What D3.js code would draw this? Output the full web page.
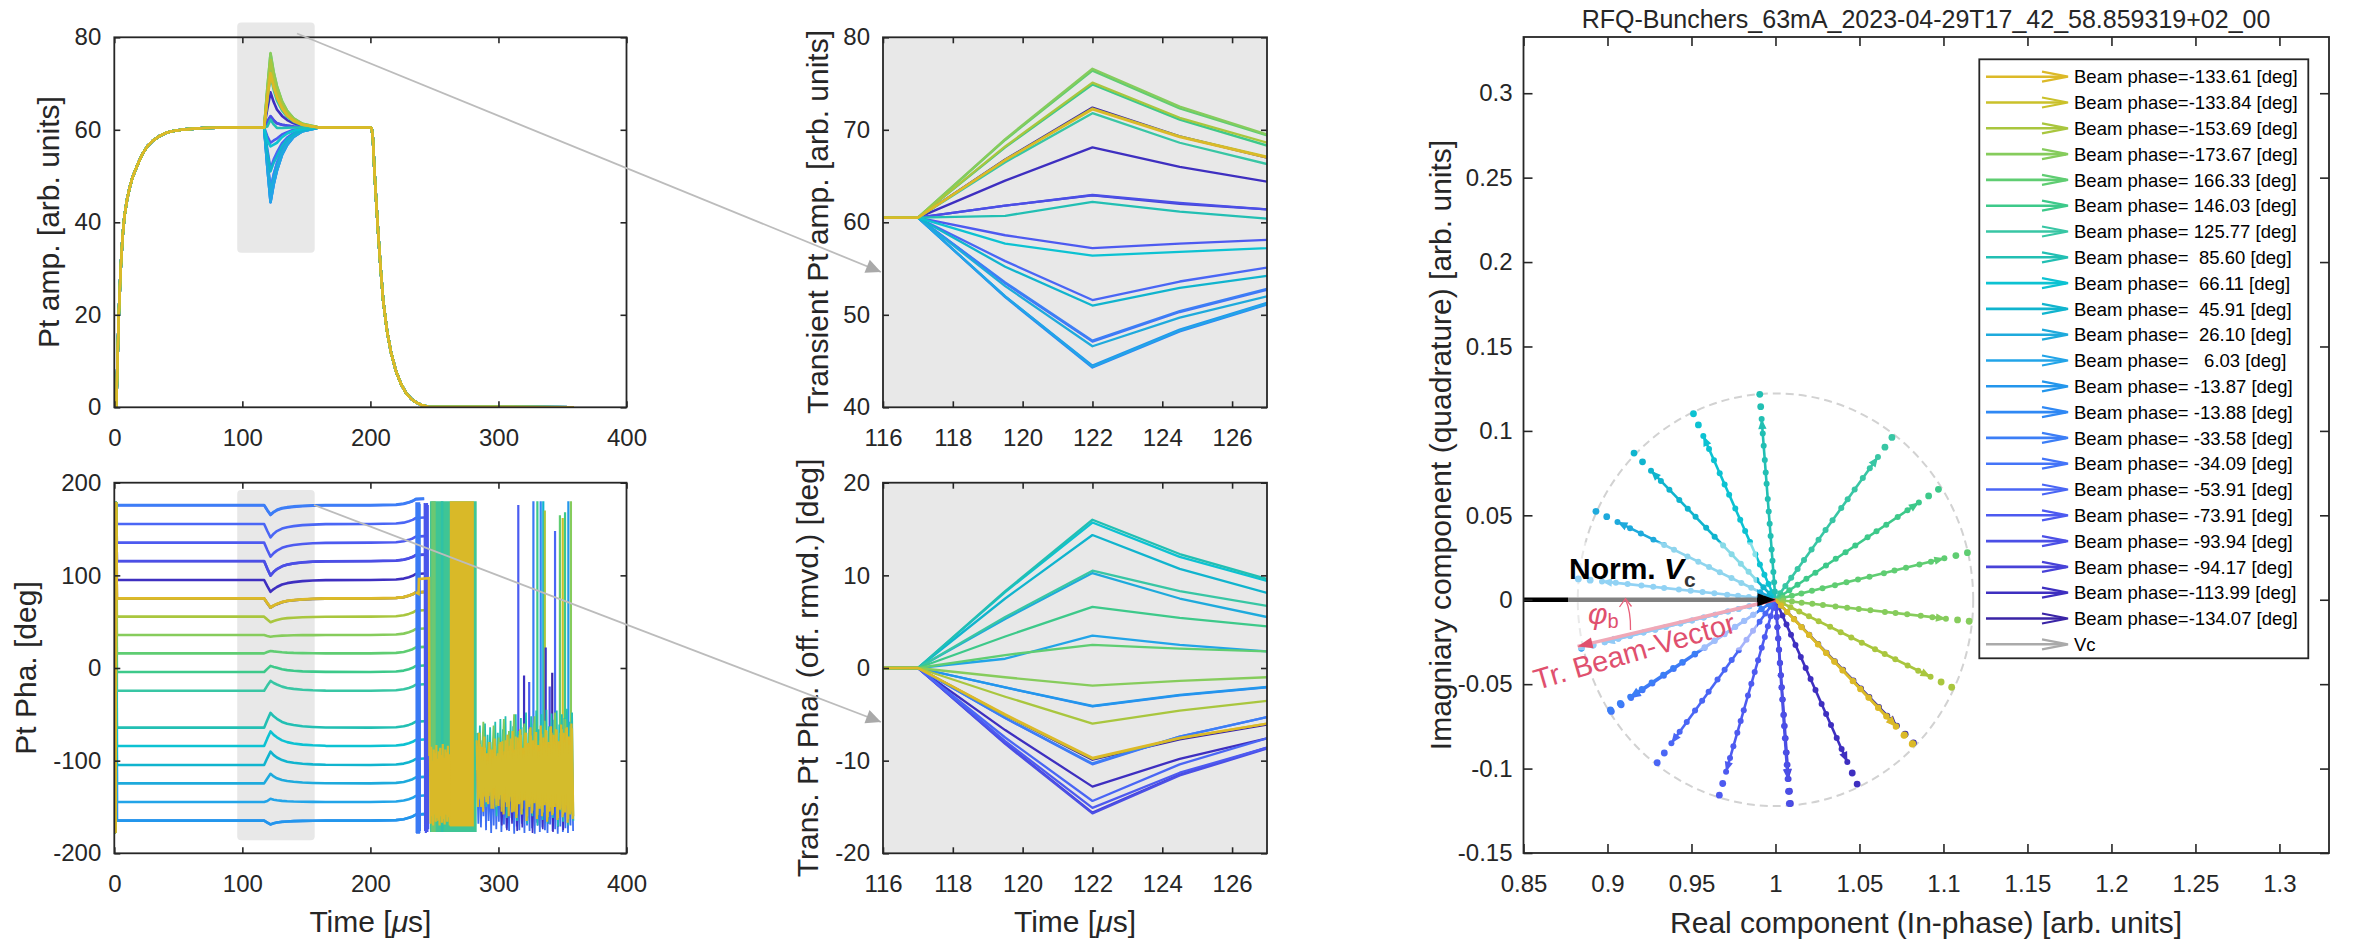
<!DOCTYPE html>
<html><head><meta charset="utf-8">
<script src="https://cdn.jsdelivr.net/npm/d3@7/dist/d3.min.js"></script>
<style>
body{margin:0;background:#fff;}
svg{display:block;}
</style></head><body>
<svg id="c" width="2358" height="941"></svg>
<script>
// ================= DATA =================
const beamPhases = [-133.61,-133.84,-153.69,-173.67,166.33,146.03,125.77,85.60,66.11,45.91,26.10,6.03,-13.87,-13.88,-33.58,-34.09,-53.91,-73.91,-93.94,-94.17,-113.99,-134.07];
const seriesColors = ["#dcb928","#cac12a","#a9c63e","#86cc5c","#5fcd72","#3dc98a","#38c6a4","#22bfb3","#0cc2d2","#10b4ce","#1eaadc","#22a4e8","#2396ec","#2f88f4","#3c7ef6","#4474f8","#4a66f5","#4d5af0","#4b4fe6","#4842d8","#3e2fc0","#3a24a6"];
const vcLabel = "Vc";
const vcColor = "#aaaaaa";

// amplitude: common rise and fall, per-series transient deltas
const ampBase = 60.5;
const ampRiseT = [0,1.5,2.5,3.5,5,6.5,8,10,12,14,16,19,22,26,30,35,40,45,55,70,90];
const ampRiseV = [0,0,10,20,30,37,41.5,45,47.5,49.5,51,53,54.8,56.5,57.6,58.6,59.3,59.7,60.1,60.4,60.5];
const ampFallT = [160,200,201,202,203,204,206,208,210,213,216,220,224,228,232,236,240,245,359];
const ampFallV = [60.5,60.5,60.3,58,52,47,38,30,23,16.5,12,7.8,5.0,3.0,1.8,1.0,0.5,0.1,0];
const transT = [116,117,119.5,122,124.5,127,131,135,140,147,155];
const ampDelta = [
 [0,0,6.2,11.7,8.7,6.5,4.1,2.6,1.4,0.6,0.2],
 [0,0,6.25,11.8,8.8,6.6,4.2,2.6,1.5,0.6,0.2],
 [0,0,7.7,14.6,10.8,8.1,5.1,3.2,1.8,0.7,0.2],
 [0,0,8.5,16.1,12.0,9.0,5.7,3.6,2.0,0.8,0.3],
 [0,0,8.4,15.9,11.8,8.9,5.6,3.6,2.0,0.8,0.3],
 [0,0,7.6,14.4,10.6,7.8,4.9,3.1,1.7,0.7,0.2],
 [0,0,6.0,11.3,8.1,5.8,3.7,2.3,1.3,0.5,0.2],
 [0,0,0.2,1.7,0.65,-0.1,-0.1,-0.05,0,0,0],
 [0,0,-2.8,-4.1,-3.7,-3.3,-2.1,-1.3,-0.7,-0.3,-0.1],
 [0,0,-5.3,-9.5,-7.6,-6.3,-4.0,-2.5,-1.4,-0.6,-0.2],
 [0,0,-7.4,-13.9,-10.8,-8.5,-5.4,-3.4,-1.9,-0.8,-0.3],
 [0,0,-8.5,-16.1,-12.2,-9.3,-5.9,-3.7,-2.0,-0.8,-0.3],
 [0,0,-8.5,-16.0,-12.1,-9.2,-5.8,-3.7,-2.0,-0.8,-0.3],
 [0,0,-8.6,-16.2,-12.3,-9.4,-5.9,-3.8,-2.1,-0.8,-0.3],
 [0,0,-7.0,-13.3,-10.1,-7.7,-4.9,-3.1,-1.7,-0.7,-0.2],
 [0,0,-7.1,-13.4,-10.2,-7.8,-4.9,-3.1,-1.7,-0.7,-0.2],
 [0,0,-4.7,-8.9,-6.9,-5.4,-3.4,-2.2,-1.2,-0.5,-0.2],
 [0,0,-1.9,-3.3,-2.8,-2.4,-1.5,-1.0,-0.5,-0.2,-0.1],
 [0,0,1.3,2.45,1.6,0.9,0.6,0.4,0.2,0.1,0],
 [0,0,1.3,2.4,1.5,0.9,0.6,0.4,0.2,0.1,0],
 [0,0,4.0,7.6,5.5,3.9,2.5,1.6,0.9,0.4,0.1],
 [0,0,6.3,11.9,8.8,6.5,4.1,2.6,1.4,0.6,0.2]
];

// phase: steady offsets, transient deltas, lead-in wrap and tail
const phaseOffset = [75.2,75.0,55.4,35.6,15.8,-4.3,-24.5,-64.4,-84.2,-104.7,-124.5,-144.6,-164.7,-164.7,176.0,175.5,155.4,135.3,115.5,115.3,95.0,75.0];
const phaLeadT = [0.4,0.9,1.4];
const phaLeadV = [179,-177,178];
const phaSettleT = 2;
const phaTransT = [116,117,119.5,122,124.5,127,131,135,140,147,155,165];
const phaDelta = [
 [0,0,-5.0,-9.7,-7.55,-6.0,-3.9,-2.7,-1.8,-1.0,-0.5,-0.1],
 [0,0,-5.1,-9.8,-7.6,-6.0,-3.9,-2.7,-1.8,-1.0,-0.5,-0.1],
 [0,0,-3.1,-6.0,-4.6,-3.55,-2.3,-1.6,-1.1,-0.6,-0.3,-0.1],
 [0,0,-1.0,-1.9,-1.4,-1.0,-0.65,-0.45,-0.3,-0.16,-0.08,0],
 [0,0,1.4,2.5,2.1,1.8,1.2,0.8,0.5,0.3,0.15,0],
 [0,0,3.4,6.6,5.4,4.5,2.9,2.0,1.35,0.7,0.36,0.1],
 [0,0,5.5,10.5,8.3,6.7,4.4,3.0,2.0,1.1,0.5,0.1],
 [0,0,8.3,16.0,12.3,9.6,6.2,4.3,2.9,1.5,0.8,0.2],
 [0,0,8.2,15.7,12.0,9.4,6.1,4.2,2.8,1.5,0.75,0.2],
 [0,0,7.5,14.35,10.7,8.1,5.3,3.6,2.4,1.3,0.65,0.2],
 [0,0,5.3,10.25,7.5,5.5,3.6,2.5,1.65,0.9,0.45,0.1],
 [0,0,1.0,3.5,2.5,1.8,1.2,0.8,0.5,0.3,0.15,0],
 [0,0,-2.1,-4.1,-2.9,-2.05,-1.3,-0.9,-0.6,-0.3,-0.16,0],
 [0,0,-2.1,-4.15,-2.95,-2.1,-1.35,-0.9,-0.6,-0.3,-0.16,0],
 [0,0,-5.4,-10.3,-7.4,-5.3,-3.4,-2.4,-1.6,-0.85,-0.4,-0.1],
 [0,0,-5.4,-10.4,-7.4,-5.3,-3.4,-2.4,-1.6,-0.85,-0.4,-0.1],
 [0,0,-7.5,-14.35,-10.4,-7.6,-4.9,-3.4,-2.3,-1.2,-0.6,-0.15],
 [0,0,-7.9,-15.1,-11.3,-8.6,-5.6,-3.9,-2.6,-1.4,-0.7,-0.2],
 [0,0,-8.2,-15.7,-11.6,-8.7,-5.7,-3.9,-2.6,-1.4,-0.7,-0.2],
 [0,0,-8.1,-15.6,-11.5,-8.6,-5.6,-3.9,-2.6,-1.4,-0.7,-0.2],
 [0,0,-6.7,-12.8,-9.8,-7.6,-4.9,-3.4,-2.3,-1.2,-0.6,-0.15],
 [0,0,-5.1,-9.9,-7.7,-6.1,-4.0,-2.7,-1.8,-1.0,-0.5,-0.1]
];
const phaTailT = [200,220,226,230,233,235.5,242];
const phaTailD = [0,0.5,1.5,3,4.5,6.5,7];

// phase after the pulse (amplitude ~0): wrap wall, blocks, noise, spikes
const wallA = {t:[236.0,236.2,236.4,236.6,236.8,237.0,237.2,237.4,237.6,237.8,238.0,238.2,238.4,238.6], v:[179,-178,179,-179,178,-178,179,-177,178,-179,179,-178,177,-176], color:"#3a7af5"};
const wallB = {t:[242.4,242.7,243.0,243.3,243.6,243.9,244.2,244.5,244.8,245.1], v:[178,-176,177,-178,176,-175,178,-177,176,-174], color:"#4a55ea"};
const goldStep = {t:[235.5,237.6,237.9,245.8,246.2], v:[81.7,80,96,97,-95], color:"#dcb928"};
const phaseBlocks = [
 {t0:246.5, t1:283.0, lo:-177, hi:180, color:"#3fc595"},
 {t0:247.5, t1:251.0, lo:-177, hi:180, color:"#6cc872"},
 {t0:255.0, t1:257.0, lo:-177, hi:180, color:"#2fc2a6"},
 {t0:262.0, t1:280.8, lo:-171, hi:180, color:"#d9b928"}
];
const yellowLow = {t0:246.5, dt:0.5, v:[-95,-168,-85,-160,-100,-170,-88,-158,-92,-166,-83,-162,-98,-165,-90,-170,-86,-160,-94,-167,-82,-163,-97,-169,-88,-158,-91,-166,-84,-161,-93,-170], color:"#d9b928"};
const blueBand = {t0:283.3, dt:1, color:"#3d6ff2", v:[-110,-168,-98,-172,-120,-160,-105,-175,-95,-165,-115,-178,-102,-170,-90,-174,-108,-166,-96,-177,-112,-169,-88,-173,-104,-176,-93,-162,-118,-179,-85,-171,-100,-175,-91,-168,-110,-178,-87,-170,-97,-176,-80,-173,-106,-179,-92,-167,-83,-177,-99,-172,-78,-175,-103,-178,-89,-169,-76,-176,-95,-174,-82,-179,-101,-171,-74,-177,-90,-173,-80,-178,-86,-170,-72,-176]};
const indigoBand = {t0:300.6, dt:2, color:"#3e2fc0", v:[-120,-170,-110,-175,-100,-168,-95,-176,-105,-172,-90,-165,-98,-178,-88,-170,-92,-174,-85,-168,-100,-177,-80,-171,-95,-175,-84,-169,-90]};
const tealBand = {t0:283.5, dt:1, color:"#22bfb3", v:[-70,-125,-62,-140,-78,-118,-60,-150,-72,-130,-64,-145,-80,-120,-58,-160,-70,-135,-55,-150,-66,-128,-52,-162,-72,-140,-57,-155,-63,-132,-50,-165,-68,-145,-54,-158,-64,-138,-48,-168,-70,-150,-52,-160,-60,-142,-46,-170,-66,-152,-50,-164,-58,-146,-45,-168,-63,-150,-49,-162,-56,-140,-46,-171,-61,-155,-50,-166,-54,-148,-44,-170,-58,-158,-48,-165]};
const greenBand = {t0:284.2, dt:2, color:"#7fca5c", v:[-70,-130,-58,-142,-80,-125,-62,-150,-75,-135,-55,-145,-68,-128,-50,-155,-72,-138,-60,-148,-66,-132,-52,-158,-78,-140,-57,-150,-64,-136,-48,-160,-70,-145,-55,-152,-62]};
const yellowBand = {t0:283, dt:1, color:"#d9b928", v:[-78,-150,-70,-142,-85,-155,-74,-139,-92,-147,-80,-133,-88,-152,-76,-141,-95,-149,-82,-137,-79,-158,-90,-145,-72,-160,-84,-139,-68,-155,-88,-162,-75,-147,-66,-158,-86,-143,-70,-165,-81,-150,-64,-157,-78,-146,-69,-163,-83,-152,-62,-160,-75,-148,-67,-166,-80,-155,-63,-159,-72,-150,-66,-164,-79,-153,-61,-161,-70,-156,-65,-167,-74,-158,-60,-163]};
const yellowBand2 = {t0:283.5, dt:1, color:"#d4bc2c", v:[-90,-140,-82,-150,-95,-135,-86,-145,-100,-138,-88,-152,-97,-130,-84,-148,-92,-142,-80,-155,-94,-136,-78,-150,-89,-144,-76,-156,-91,-139,-74,-158,-87,-146,-72,-152,-93,-141,-70,-160,-85,-147,-73,-154,-88,-143,-69,-159,-90,-149,-71,-156,-84,-145,-68,-161,-86,-150,-70,-157,-82,-146,-67,-162,-88,-151,-66,-158,-80,-148,-64,-163,-83,-155,-65,-160]};
const phaseSpikes = [
 [315.5,176,"#4a5cf0"],[320,-8,"#3e2fc0"],[324,-15,"#4d5af0"],[327.3,180,"#3a7af5"],[330.4,180,"#3dc98a"],
 [333.0,180,"#2f88f4"],[335.0,180,"#10b4ce"],[336.2,170,"#a9c63e"],[336.9,22,"#3e2fc0"],[340,-20,"#4b4fe6"],
 [342,-5,"#3a24a6"],[344.2,148,"#4a66f5"],[348.0,165,"#5fcd72"],[350.2,162,"#cac12a"],[352.0,168,"#3dc98a"],
 [354.6,180,"#2396ec"],[356.6,180,"#86cc5c"]
];

// polar (complex plane) rays
const rayAngle = [-46.4,-46.2,-26.3,-6.3,13.7,34.0,54.2,94.4,113.9,134.1,153.9,174.0,-166.1,-166.1,-146.4,-145.9,-126.1,-106.1,-86.1,-85.8,-66.0,-45.9];
const rayReach = [0.118,0.118,0.117,0.116,0.1176,0.117,0.1185,0.122,0.1205,0.121,0.119,0.118,0.119,0.119,0.118,0.118,0.1195,0.1205,0.121,0.121,0.1195,0.118];
const rayFrac = [0.04,0.085,0.135,0.19,0.245,0.31,0.37,0.43,0.49,0.565,0.62,0.68,0.75,0.81,0.88,0.94,1.0];
const rayArrowIdx = 14;
const beamVector = {angle:-166.8, length:0.121};
const circleR = {x:0.1177, y:0.1222};

// ticks
const tLeftX = [0,100,200,300,400];
const tAmpY = [0,20,40,60,80];
const tPhaY = [-200,-100,0,100,200];
const tMidX = [116,118,120,122,124,126];
const tMidAmpY = [40,50,60,70,80];
const tMidPhaY = [-20,-10,0,10,20];
const tReX = [0.85,0.9,0.95,1,1.05,1.1,1.15,1.2,1.25,1.3];
const tImY = [-0.15,-0.1,-0.05,0,0.05,0.1,0.15,0.2,0.25,0.3];

const titleText = "RFQ-Bunchers_63mA_2023-04-29T17_42_58.859319+02_00";

// ================= DRAW =================
const FONT = "'Liberation Sans', Arial, Helvetica, sans-serif";
const INK = "#262626";
const svg = d3.select("#c").attr("font-family", FONT);
const defs = svg.append("defs");
const order = d3.range(beamPhases.length).reverse(); // gold drawn last (on top)

function makePanel(o){
  const x = d3.scaleLinear().domain(o.xd).range([o.l,o.r]);
  const y = d3.scaleLinear().domain(o.yd).range([o.b,o.t]);
  const g = svg.append("g");
  if (o.bg) g.append("rect").attr("x",o.l).attr("y",o.t).attr("width",o.r-o.l).attr("height",o.b-o.t).attr("fill",o.bg);
  defs.append("clipPath").attr("id","clip"+o.id).append("rect")
    .attr("x",o.l).attr("y",o.t).attr("width",o.r-o.l).attr("height",o.b-o.t);
  const under = g.append("g");
  const plot = g.append("g").attr("clip-path",`url(#clip${o.id})`);
  const axes = g.append("g");
  return {x,y,g,under,plot,axes,o};
}
function drawAxes(p){
  const {x,y,o,axes} = p;
  const tl = o.tl, fmt = d => String(d);
  axes.append("g").attr("transform",`translate(0,${o.b})`)
    .call(d3.axisBottom(x).tickValues(o.xt).tickSize(-tl).tickPadding(o.xpad).tickFormat(fmt));
  axes.append("g").attr("transform",`translate(0,${o.t})`)
    .call(d3.axisTop(x).tickValues(o.xt).tickSize(-tl).tickFormat(""));
  axes.append("g").attr("transform",`translate(${o.l},0)`)
    .call(d3.axisLeft(y).tickValues(o.yt).tickSize(-tl).tickPadding(o.ypad).tickFormat(fmt));
  axes.append("g").attr("transform",`translate(${o.r},0)`)
    .call(d3.axisRight(y).tickValues(o.yt).tickSize(-tl).tickFormat(""));
  axes.selectAll(".domain").remove();
  axes.selectAll(".tick line").attr("stroke",INK).attr("stroke-width",1.6);
  axes.selectAll(".tick text").attr("fill",INK).attr("font-size",24).attr("font-family",FONT);
  axes.append("rect").attr("x",o.l).attr("y",o.t).attr("width",o.r-o.l).attr("height",o.b-o.t)
    .attr("fill","none").attr("stroke",INK).attr("stroke-width",1.8);
}
function yLabel(x, yc, txt){
  svg.append("text").attr("transform",`translate(${x},${yc}) rotate(-90)`)
    .attr("text-anchor","middle").attr("font-size",30).attr("fill",INK).text(txt);
}
function timeLabel(xc, y){
  const t = svg.append("text").attr("x",xc).attr("y",y).attr("text-anchor","middle").attr("font-size",30).attr("fill",INK);
  t.append("tspan").text("Time [");
  t.append("tspan").attr("font-style","italic").text("\u03bc");
  t.append("tspan").text("s]");
}
const lineGen = (p) => d3.line().x(d=>p.x(d[0])).y(d=>p.y(d[1]));

// ---------- Panel 1: Pt amplitude ----------
const P1 = makePanel({id:1,l:114.3,r:626.5,t:37.3,b:407.3,xd:[0,400],yd:[0,80],xt:tLeftX,yt:tAmpY,tl:6,xpad:22,ypad:13});
P1.under.append("rect").attr("x",P1.x(96)).attr("y",P1.y(83.2)).attr("width",P1.x(156.5)-P1.x(96))
  .attr("height",P1.y(33.4)-P1.y(83.2)).attr("rx",4).attr("fill","#e8e8e8");
function ampPoints(i){
  return ampRiseT.map((t,k)=>[t,ampRiseV[k]])
    .concat(transT.map((t,k)=>[t,ampBase+ampDelta[i][k]]))
    .concat(ampFallT.map((t,k)=>[t,ampFallV[k]]));
}
order.forEach(i=>{
  P1.plot.append("path").attr("d",lineGen(P1)(ampPoints(i))).attr("fill","none")
    .attr("stroke",seriesColors[i]).attr("stroke-width",2.6).attr("stroke-linejoin","round");
});
drawAxes(P1);
yLabel(59, 222, "Pt amp. [arb. units]");

// ---------- Panel 2: Pt phase ----------
const P2 = makePanel({id:2,l:114.3,r:626.5,t:482.7,b:853.3,xd:[0,400],yd:[-200,200],xt:tLeftX,yt:tPhaY,tl:6,xpad:22,ypad:13});
P2.under.append("rect").attr("x",P2.x(96)).attr("y",P2.y(192)).attr("width",P2.x(156.5)-P2.x(96))
  .attr("height",P2.y(-186)-P2.y(192)).attr("rx",4).attr("fill","#e8e8e8");
function phaPoints(i){
  const p0 = phaseOffset[i];
  return phaLeadT.map((t,k)=>[t,phaLeadV[k]])
    .concat([[phaSettleT,p0]])
    .concat(phaTransT.map((t,k)=>[t,p0+phaDelta[i][k]]))
    .concat(phaTailT.map((t,k)=>[t,p0+phaTailD[k]]));
}
order.forEach(i=>{
  P2.plot.append("path").attr("d",lineGen(P2)(phaPoints(i))).attr("fill","none")
    .attr("stroke",seriesColors[i]).attr("stroke-width",2.6).attr("stroke-linejoin","round");
});
function drawSeq(p, s, w){
  const pts = s.t ? s.t.map((t,k)=>[t,s.v[k]]) : s.v.map((v,k)=>[s.t0+k*s.dt, v]);
  p.plot.append("path").attr("d",lineGen(p)(pts)).attr("fill","none").attr("stroke",s.color).attr("stroke-width",w||2);
}
drawSeq(P2, wallA, 2.4);
drawSeq(P2, wallB, 2.2);
phaseBlocks.forEach(b=>{
  P2.plot.append("rect").attr("x",P2.x(b.t0)).attr("y",P2.y(b.hi)).attr("width",P2.x(b.t1)-P2.x(b.t0))
    .attr("height",P2.y(b.lo)-P2.y(b.hi)).attr("fill",b.color);
});
drawSeq(P2, yellowLow, 2.2);
drawSeq(P2, goldStep, 2.6);
phaseSpikes.forEach(s=>{
  P2.plot.append("line").attr("x1",P2.x(s[0])).attr("x2",P2.x(s[0])).attr("y1",P2.y(-105)).attr("y2",P2.y(s[1]))
    .attr("stroke",s[2]).attr("stroke-width",2.2);
});
drawSeq(P2, blueBand, 1.8);
drawSeq(P2, indigoBand, 1.6);
drawSeq(P2, tealBand, 1.8);
drawSeq(P2, greenBand, 1.8);
drawSeq(P2, yellowBand, 2.2);
drawSeq(P2, yellowBand2, 2.0);
drawAxes(P2);
yLabel(36, 668, "Pt Pha. [deg]");
timeLabel(370.4, 932);

// ---------- Panel 3: transient amplitude ----------
const P3 = makePanel({id:3,l:883,r:1267,t:37.3,b:407.3,xd:[116,127],yd:[40,80],xt:tMidX,yt:tMidAmpY,tl:6,xpad:22,ypad:13,bg:"#e8e8e8"});
order.forEach(i=>{
  P3.plot.append("path").attr("d",lineGen(P3)(transT.map((t,k)=>[t,ampBase+ampDelta[i][k]]))).attr("fill","none")
    .attr("stroke",seriesColors[i]).attr("stroke-width",2.3).attr("stroke-linejoin","round");
});
drawAxes(P3);
yLabel(828, 222, "Transient Pt amp. [arb. units]");

// ---------- Panel 4: transient phase ----------
const P4 = makePanel({id:4,l:883,r:1267,t:482.7,b:853.3,xd:[116,127],yd:[-20,20],xt:tMidX,yt:tMidPhaY,tl:6,xpad:22,ypad:13,bg:"#e8e8e8"});
order.forEach(i=>{
  P4.plot.append("path").attr("d",lineGen(P4)(phaTransT.map((t,k)=>[t,phaDelta[i][k]]))).attr("fill","none")
    .attr("stroke",seriesColors[i]).attr("stroke-width",2.3).attr("stroke-linejoin","round");
});
drawAxes(P4);
yLabel(818, 668, "Trans. Pt Pha. (off. rmvd.) [deg]");
timeLabel(1075, 932);

// ---------- Panel 5: complex plane ----------
const P5 = makePanel({id:5,l:1523.5,r:2329,t:37,b:853,xd:[0.85,1.3295],yd:[-0.15,0.3333],xt:tReX,yt:tImY,tl:9,xpad:22,ypad:11});
const px = P5.x, py = P5.y;
const cxp = px(1), cyp = py(0);
P5.plot.append("ellipse").attr("cx",cxp).attr("cy",cyp).attr("rx",px(1+circleR.x)-cxp).attr("ry",cyp-py(circleR.y))
  .attr("fill","none").attr("stroke","#d2d2d2").attr("stroke-width",2).attr("stroke-dasharray","8,5");
function arrowHead(g, tip, from, L, w, color){
  const dx = tip[0]-from[0], dy = tip[1]-from[1], n = Math.hypot(dx,dy);
  const ux = dx/n, uy = dy/n, bx = tip[0]-L*ux, by = tip[1]-L*uy;
  g.append("polygon").attr("points",[[tip[0],tip[1]],[bx-w*uy,by+w*ux],[bx+w*uy,by-w*ux]].map(p=>p.join(",")).join(" "))
    .attr("fill",color);
}
order.forEach(i=>{
  const th = rayAngle[i]*Math.PI/180, R = rayReach[i];
  const pts = rayFrac.map(f=>[px(1+R*f*Math.cos(th)), py(R*f*Math.sin(th))]);
  const tip = pts[rayArrowIdx];
  const col = seriesColors[i];
  P5.plot.append("line").attr("x1",cxp).attr("y1",cyp).attr("x2",tip[0]).attr("y2",tip[1])
    .attr("stroke",col).attr("stroke-width",2.6);
  arrowHead(P5.plot, tip, [cxp,cyp], 10, 4.2, col);
  P5.plot.selectAll(null).data(pts).enter().append("circle")
    .attr("cx",d=>d[0]).attr("cy",d=>d[1]).attr("r",(d,k)=>k>=rayArrowIdx+1?3.4:3).attr("fill",col);
});
// Norm. Vc arrow (black)
P5.plot.append("line").attr("x1",px(0.85)).attr("y1",cyp).attr("x2",px(0.99)).attr("y2",cyp)
  .attr("stroke","#000").attr("stroke-width",4.5);
// beam vector (pink)
const bth = beamVector.angle*Math.PI/180;
const btip = [px(1+beamVector.length*Math.cos(bth)), py(beamVector.length*Math.sin(bth))];
P5.plot.append("line").attr("x1",cxp).attr("y1",cyp).attr("x2",btip[0]).attr("y2",btip[1])
  .attr("stroke","#e0506e").attr("stroke-width",3.5);
// translucent label box
P5.plot.append("rect").attr("x",px(0.8765)).attr("y",py(0.034)).attr("width",px(0.989)-px(0.8765))
  .attr("height",py(-0.03)-py(0.034)).attr("fill","#fff").attr("opacity",0.5);
arrowHead(P5.plot, [cxp,cyp], [px(0.9),cyp], 18, 6.5, "#000");
arrowHead(P5.plot, btip, [cxp,cyp], 15, 5.5, "#e0506e");
// phi_b small arrow
P5.plot.append("path").attr("d",`M1630.5,630 Q1631,612 1625.5,599`).attr("fill","none").attr("stroke","#e8607a").attr("stroke-width",1.3);
P5.plot.append("path").attr("d",`M1619.5,607 L1625.5,598.5 L1631.5,606.5`).attr("fill","none").attr("stroke","#e8607a").attr("stroke-width",1.3);
drawAxes(P5);
// annotations text
const nt = svg.append("text").attr("x",1569).attr("y",579).attr("font-size",30).attr("font-weight","bold").attr("fill","#000");
nt.append("tspan").text("Norm. ");
nt.append("tspan").attr("font-style","italic").text("V");
nt.append("tspan").attr("font-size",21).attr("dy",8).attr("fill","#333").text("c");
const pb = svg.append("text").attr("x",1588).attr("y",624).attr("font-size",30).attr("fill","#e0506e");
pb.append("tspan").attr("font-style","italic").text("\u03c6");
pb.append("tspan").attr("font-size",20).attr("dy",4).text("b");
svg.append("text").attr("transform","translate(1537,690) rotate(-16.2)").attr("font-size",29).attr("fill","#e0506e").text("Tr. Beam-Vector");
yLabel(1451, 445, "Imagniary component (quadrature) [arb. units]");
svg.append("text").attr("x",1926).attr("y",933).attr("text-anchor","middle").attr("font-size",30).attr("fill",INK)
  .text("Real component (In-phase) [arb. units]");
svg.append("text").attr("x",1926).attr("y",28).attr("text-anchor","middle").attr("font-size",25).attr("fill",INK).text(titleText);

// legend
const legRows = beamPhases.map((p,i)=>({label:"Beam phase="+p.toFixed(2).padStart(7," ")+" [deg]", color:seriesColors[i]}))
  .concat([{label:vcLabel, color:vcColor}]);
const lg = svg.append("g");
lg.append("rect").attr("x",1979.3).attr("y",59.3).attr("width",329).attr("height",599).attr("fill","#fff")
  .attr("stroke",INK).attr("stroke-width",1.8);
legRows.forEach((r,k)=>{
  const yy = 76.7 + k*25.8;
  lg.append("line").attr("x1",1986).attr("x2",2066).attr("y1",yy).attr("y2",yy).attr("stroke",r.color).attr("stroke-width",2.6);
  lg.append("path").attr("d",`M2042,${yy-5} L2068,${yy} L2042,${yy+5}`).attr("fill","none").attr("stroke",r.color).attr("stroke-width",2.2);
  lg.append("text").attr("x",2074).attr("y",yy).attr("dy","0.36em").attr("font-size",18.5).attr("fill","#000")
    .attr("xml:space","preserve").style("white-space","pre").text(r.label);
});

// zoom connector arrows (on top)
function connector(x1,y1,x2,y2){
  svg.append("line").attr("x1",x1).attr("y1",y1).attr("x2",x2).attr("y2",y2).attr("stroke","#bcbcbc").attr("stroke-width",1.8);
  arrowHead(svg, [x2,y2], [x1,y1], 15, 7, "#a9a9a9");
}
connector(297,33.5,881,272);
connector(314,505,881,722);
</script>
</body></html>
